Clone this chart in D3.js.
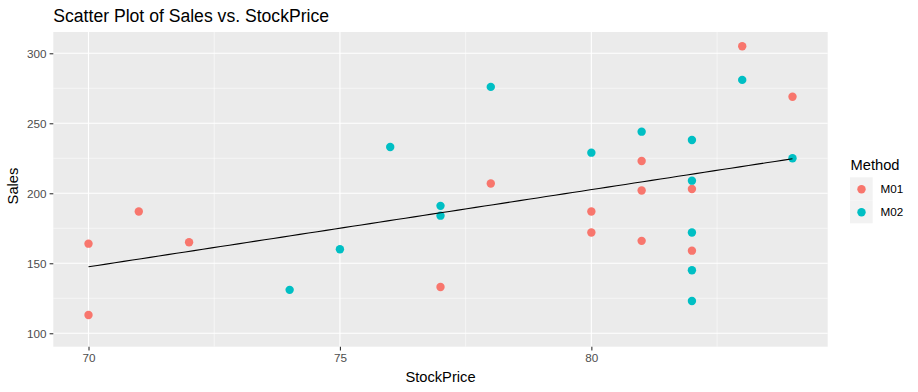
<!DOCTYPE html>
<html><head><meta charset="utf-8">
<script src="https://cdn.jsdelivr.net/npm/d3@7"></script>
<style>body{margin:0;background:#fff;} text{font-family:Arial,"Liberation Sans",sans-serif;}</style>
</head><body><svg id="c" width="918" height="392"></svg>
<script>
const methods = ["M01", "M02"];
const colors = ["#F8766D", "#00BFC4"];
const m01Price = [70, 70, 71, 72, 77, 83, 84, 81, 78, 81, 82, 80, 80, 81, 82];
const m01Sales = [113, 164, 187, 165, 133, 305, 269, 223, 207, 202, 203, 187, 172, 166, 159];
const m02Price = [74, 75, 77, 77, 76, 78, 83, 81, 82, 80, 84, 82, 82, 82, 82];
const m02Sales = [131, 160, 191, 184, 233, 276, 281, 244, 238, 229, 225, 209, 172, 145, 123];
const xTicks = [70, 75, 80];
const yTicks = [100, 150, 200, 250, 300];
const xMinor = [72.5, 77.5, 82.5];
const yMinor = [125, 175, 225, 275];

const svg = d3.select("#c");
const P = {l: 53.3, r: 827.7, t: 32, b: 346.7};
const x = d3.scaleLinear().domain([69.3, 84.7]).range([P.l, P.r]);
const y = d3.scaleLinear().domain([90.4, 315.2]).range([P.b, P.t]);

const pts = [];
m01Price.forEach((p, i) => pts.push({x: p, y: m01Sales[i], m: 0}));
m02Price.forEach((p, i) => pts.push({x: p, y: m02Sales[i], m: 1}));

svg.append("rect").attr("x", P.l).attr("y", P.t).attr("width", P.r - P.l).attr("height", P.b - P.t).attr("fill", "#EBEBEB");
const g = svg.append("g");
g.selectAll(".mx").data(xMinor).join("line").attr("x1", d => x(d)).attr("x2", d => x(d)).attr("y1", P.t).attr("y2", P.b).attr("stroke", "#fff").attr("stroke-width", 0.55);
g.selectAll(".my").data(yMinor).join("line").attr("y1", d => y(d)).attr("y2", d => y(d)).attr("x1", P.l).attr("x2", P.r).attr("stroke", "#fff").attr("stroke-width", 0.55);
g.selectAll(".Mx").data(xTicks).join("line").attr("x1", d => x(d)).attr("x2", d => x(d)).attr("y1", P.t).attr("y2", P.b).attr("stroke", "#fff").attr("stroke-width", 1.1);
g.selectAll(".My").data(yTicks).join("line").attr("y1", d => y(d)).attr("y2", d => y(d)).attr("x1", P.l).attr("x2", P.r).attr("stroke", "#fff").attr("stroke-width", 1.1);

// points
svg.append("g").selectAll("circle").data(pts).join("circle")
  .attr("cx", d => x(d.x)).attr("cy", d => y(d.y)).attr("r", 4.2)
  .attr("fill", d => colors[d.m]);

// linear fit over all points
const mx = d3.mean(pts, d => d.x), my = d3.mean(pts, d => d.y);
const slope = d3.sum(pts, d => (d.x - mx) * (d.y - my)) / d3.sum(pts, d => (d.x - mx) ** 2);
const icpt = my - slope * mx;
const [x0, x1] = d3.extent(pts, d => d.x);
const fit = d3.range(0, 81).map(i => { const xv = x0 + (x1 - x0) * i / 80; return [xv, icpt + slope * xv]; });
svg.append("path").attr("d", d3.line().x(d => x(d[0])).y(d => y(d[1]))(fit))
  .attr("fill", "none").attr("stroke", "#000").attr("stroke-width", 1.1);

// axes
const xa = svg.append("g").attr("transform", `translate(0,${P.b})`)
  .call(d3.axisBottom(x).tickValues(xTicks).tickSize(3.7).tickSizeOuter(0).tickPadding(3));
const ya = svg.append("g").attr("transform", `translate(${P.l},0)`)
  .call(d3.axisLeft(y).tickValues(yTicks).tickSize(3.7).tickSizeOuter(0).tickPadding(3));
[xa, ya].forEach(a => {
  a.select(".domain").remove();
  a.selectAll(".tick line").attr("stroke", "#333").attr("stroke-width", 1.1);
  a.selectAll(".tick text").attr("fill", "#4D4D4D").style("font-size", "11.7px").style("font-family", "Arial,'Liberation Sans',sans-serif");
});

svg.append("text").attr("x", P.l).attr("y", 22).attr("font-size", 17.6).attr("fill", "#000").text("Scatter Plot of Sales vs. StockPrice");
svg.append("text").attr("x", (P.l + P.r) / 2).attr("y", 382).attr("text-anchor", "middle").attr("font-size", 14.7).attr("fill", "#000").text("StockPrice");
svg.append("text").attr("transform", `translate(18.3,186) rotate(-90)`).attr("text-anchor", "middle").attr("font-size", 14.7).attr("fill", "#000").text("Sales");

// legend
const lg = svg.append("g");
lg.append("text").attr("x", 850.5).attr("y", 170).attr("font-size", 14.7).attr("fill", "#000").text("Method");
methods.forEach((m, i) => {
  const ky = 177.3 + i * 23;
  lg.append("rect").attr("x", 850).attr("y", ky).attr("width", 22.7).attr("height", 23).attr("fill", "#F2F2F2");
  lg.append("circle").attr("cx", 861.5).attr("cy", ky + 12).attr("r", 4.2).attr("fill", colors[i]);
  lg.append("text").attr("x", 880.5).attr("y", ky + 12).attr("dy", "0.35em").attr("font-size", 11.7).attr("fill", "#000").text(m);
});
</script></body></html>
